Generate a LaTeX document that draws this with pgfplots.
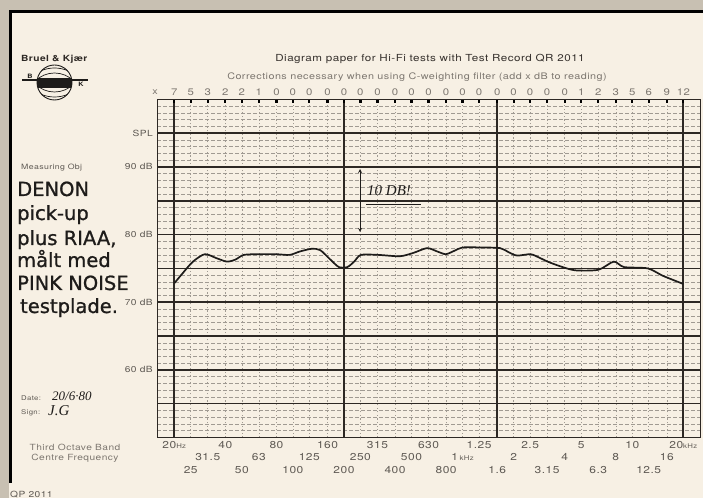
\documentclass[border=0pt]{standalone}
\usepackage{pgfplots}
\pgfplotsset{compat=1.18}
\usepackage{fontspec}
\setmainfont{TeX Gyre Heros}[FakeStretch=1.2, LetterSpace=5]
\newfontfamily\bigfont{DejaVu Sans}[FakeBold=1]
\newfontfamily\handfont{Liberation Serif}
\definecolor{paper}{RGB}{247,240,228}
\definecolor{scan}{RGB}{200,192,178}
\definecolor{ink}{RGB}{95,90,84}
\definecolor{inklight}{RGB}{125,119,112}
\definecolor{gridk}{RGB}{45,40,36}
\definecolor{gridm}{RGB}{160,154,146}
\definecolor{pen}{RGB}{30,28,26}
\newcommand{\rA}[1]{\raisebox{-7pt}[0pt][0pt]{#1}}
\newcommand{\rB}[1]{\raisebox{-19pt}[0pt][0pt]{#1}}
\newcommand{\rC}[1]{\raisebox{-32pt}[0pt][0pt]{#1}}
\newcommand{\un}[1]{{\fontsize{6.5}{7}\selectfont #1}}
\begin{document}
\begin{tikzpicture}[x=1pt,y=1pt]
\path[use as bounding box] (0,0) rectangle (703,498);
\fill[scan] (0,0) rectangle (703,498);
\fill[paper] (9,0) rectangle (703,488);
\draw[line width=3pt, black] (10.5,15) -- (10.5,486.5) -- (703,486.5);

% header texts
\node[anchor=base west, inner sep=0pt, font=\bfseries\fontsize{8.5}{10}\selectfont, text=gridk] at (21,436) {Bruel \& Kjær};
\node[anchor=base, font=\fontsize{9.7}{11}\selectfont, text=gridk!80!ink] at (430,436) {Diagram paper for Hi-Fi tests with Test Record QR 2011};
\node[anchor=base, font=\fontsize{9}{11}\selectfont, text=inklight] at (417,418) {Corrections necessary when using C-weighting filter (add x dB to reading)};
\node[anchor=base, font=\fontsize{9}{11}\selectfont, text=inklight] at (155,403) {x};

% logo
\begin{scope}
\draw[pen, line width=0.9pt] (54.5,415.5) circle (17.5);
\clip (54.5,415.5) circle (17.5);
\foreach \d in {-4.5,-2.5,-0.5,1.5,3.5} {\draw[pen, line width=1.1pt] (36,415.5+\d) -- (73,415.5+\d);}
\draw[pen, line width=0.7pt] (54.5,398) circle (27);
\draw[pen, line width=0.7pt] (54.5,396) circle (34);
\draw[pen, line width=0.7pt] (54.5,433) circle (27);
\draw[pen, line width=0.7pt] (54.5,435) circle (34);
\end{scope}
\draw[pen, line width=1.5pt] (22,418) -- (88,418);
\node[anchor=south, inner sep=0.5pt, font=\bfseries\fontsize{6}{7}\selectfont, text=pen] at (30,419) {B};
\node[anchor=north, inner sep=0.5pt, font=\bfseries\fontsize{6}{7}\selectfont, text=pen] at (81,416.5) {K};

% left texts
\node[anchor=base west, inner sep=0pt, font=\fontsize{7.3}{8}\selectfont, text=ink] at (21,328) {Measuring Obj};
\begin{scope}[every node/.style={anchor=base west, font=\bigfont\fontsize{19.5}{22}\selectfont, text=pen, inner sep=0pt}]
\node at (17,302) {DENON};
\node at (17,278) {pick-up};
\node at (17,253) {plus RIAA,};
\node at (17,231) {målt med};
\node at (17,208) {PINK NOISE};
\node at (20,185) {testplade.};
\end{scope}
\node[anchor=base west, inner sep=0pt, font=\fontsize{6.5}{8}\selectfont, text=ink] at (21,98) {Date:};
\node[anchor=base west, inner sep=0pt, font=\handfont\itshape\fontsize{13}{14}\selectfont, text=pen] at (52,98) {20/6·80};
\node[anchor=base west, inner sep=0pt, font=\fontsize{6.5}{8}\selectfont, text=ink] at (21,84) {Sign:};
\node[anchor=base west, inner sep=0pt, font=\handfont\itshape\fontsize{15}{16}\selectfont, text=pen] at (48,83) {J.G};
\node[anchor=base, font=\fontsize{8.5}{9}\selectfont, text=inklight] at (75,48) {Third Octave Band};
\node[anchor=base, font=\fontsize{8.5}{9}\selectfont, text=inklight] at (75,38) {Centre Frequency};
\node[anchor=base west, inner sep=0pt, font=\fontsize{8.5}{10}\selectfont, text=ink] at (10,1) {QP 2011};

\begin{axis}[
  at={(157.3pt,60.5pt)}, anchor=south west,
  width=543pt, height=338.2pt, scale only axis,
  xmode=log, xmin=15.887, xmax=25179, ymin=50, ymax=100,
  axis line style={line width=1.4pt, gridk},
  xtick={20,25,31.5,40,50,63,80,100,125,160,200,250,315,400,500,630,800,1000,1250,1600,2000,2500,3150,4000,5000,6300,8000,10000,12500,16000,20000},
  xticklabels={\rA{20\un{Hz}}, \rC{25}, \rB{31.5}, \rA{40}, \rC{50}, \rB{63}, \rA{80}, \rC{100}, \rB{125}, \rA{160}, \rC{200}, \rB{250}, \rA{315}, \rC{400}, \rB{500}, \rA{630}, \rC{800}, \rB{1\,\un{kHz}}, \rA{1.25}, \rC{1.6}, \rB{2}, \rA{2.5}, \rC{3.15}, \rB{4}, \rA{5}, \rC{6.3}, \rB{8}, \rA{10}, \rC{12.5}, \rB{16}, \rA{20\un{kHz}}},
  extra x ticks={20,200,1600,20000}, extra x tick labels={},
  extra x tick style={grid=major, major x grid style={gridk, solid, line width=1.8pt}},
  major tick length=0pt, minor tick length=0pt,
  xmajorgrids,
  major x grid style={gridm, line width=0.6pt, dash pattern=on 1.2pt off 2.4pt},
  ytick={50,55,60,65,70,75,80,85,90,95,100},
  yticklabels={,,60 dB,,70 dB,,80 dB,,90 dB,SPL,},
  minor y tick num=4,
  ymajorgrids, yminorgrids,
  major y grid style={gridk, line width=1.6pt},
  minor y grid style={gridm, line width=0.5pt, dash pattern=on 4pt off 2pt},
  xticklabel style={font=\fontsize{10}{11}\selectfont, text=ink},
  yticklabel style={font=\fontsize{8.5}{10}\selectfont, text=ink, xshift=-1pt},
]
\addplot[pen, line width=1.7pt, smooth, tension=0.45] coordinates {
(20,72.8) (22.44,74.3) (25.76,76.0) (30.27,77.1) (35.57,76.5) (40.83,76.0)
(45.82,76.3) (51.41,77.0) (63.25,77.1) (79.62,77.1) (95.71,77.0) (109.9,77.5)
(129.1,77.9) (144.9,77.7) (166.4,76.3) (186.7,75.2) (209.4,75.2) (229.6,76.0)
(251.8,77.0) (317.0,77.0) (427.6,76.8) (514.0,77.3) (618.1,78.0) (709.6,77.5)
(796.2,77.1) (893.4,77.6) (1002.4,78.1) (1262,78.1) (1663,78.0) (1866,77.4)
(2094,76.9) (2518,77.1) (2825,76.6) (3245,75.9) (3991,75.1) (4690,74.7)
(6325,74.8) (7783,76.0) (8936,75.2) (12330,75.0) (15170,73.9) (20000,72.7)
};
\end{axis}

\begin{axis}[
  at={(157.3pt,60.5pt)}, anchor=south west,
  width=543pt, height=338.2pt, scale only axis,
  xmode=log, xmin=15.887, xmax=25179, ymin=50, ymax=100,
  axis x line*=top, hide y axis,
  axis line style={line width=1.4pt, gridk},
  xtick={20,25,31.5,40,50,63,80,100,125,160,200,250,315,400,500,630,800,1000,1250,1600,2000,2500,3150,4000,5000,6300,8000,10000,12500,16000,20000},
  xticklabels={7,5,3,2,2,1,0,0,0,0,0,0,0,0,0,0,0,0,0,0,0,0,0,0,1,2,3,5,6,9,12},
  tick align=inside, major tick length=4pt,
  tick style={line width=2.2pt, black},
  xticklabel style={font=\fontsize{9.5}{10}\selectfont, text=inklight},
]
\end{axis}

% handwritten annotation
\draw[pen, line width=0.8pt, <->, >=stealth] (360,329) -- (360,266);
\node[anchor=base west, inner sep=0pt, font=\handfont\itshape\fontsize{15}{16}\selectfont, text=pen] at (367,302) {10 DB!};
\draw[pen, line width=0.8pt] (366,294) -- (421,294);
\end{tikzpicture}
\end{document}
